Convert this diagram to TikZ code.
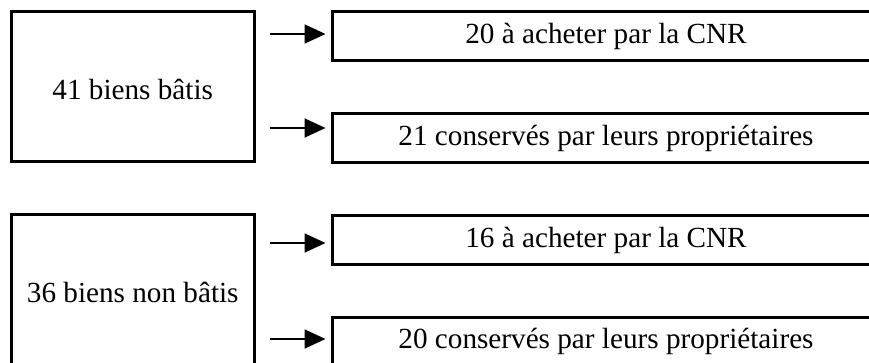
\documentclass[tikz,border=0pt]{standalone}
\usepackage{fontspec}
\setmainfont{Liberation Serif}
\usetikzlibrary{arrows.meta}
\usetikzlibrary{positioning}
\tikzset{every picture/.style={/utils/exec={\fontsize{29.2}{35}\selectfont}}}
\tikzset{
  box/.style={draw, line width=3pt, inner sep=0pt},
  wholebox/.style={box, minimum width=243.5pt, minimum height=150pt, text height=26pt, text depth=0pt},
  partbox/.style={box, minimum width=548pt, minimum height=48.5pt},
  split/.style={-{Triangle[length=21pt,width=19pt]}, line width=1.8pt, shorten <=13.5pt, shorten >=5pt}
}

\begin{document}
\begin{tikzpicture}[x=1pt,y=1pt]
  \useasboundingbox (0,0) rectangle (869,363);
  \clip (0,0) rectangle (869,363);

  % biens batis
  \node [wholebox] (bati) at (132.75,276) {41 biens bâtis};
  \node [partbox] (batibuy) at (606,326.75) {20 à acheter par la CNR};
  \node [partbox] (batikeep) at (606,224.75) {21 conservés par leurs propriétaires};

  % biens non batis
  \node [wholebox] (nonbati) at (132.75,73) {36 biens non bâtis};
  \node [partbox] (nonbatibuy) at (606,122.75) {16 à acheter par la CNR};
  \node [partbox] (nonbatikeep) at (606,21.25) {20 conservés par leurs propriétaires};

  \coordinate (t1) at ([yshift=2.25pt]batibuy.west);
  \coordinate (t2) at ([yshift=10.25pt]batikeep.west);
  \coordinate (t3) at ([yshift=-2.75pt]nonbatibuy.west);
  \coordinate (t4) at ([yshift=2.75pt]nonbatikeep.west);

  \draw [split] (bati.east |- t1) -- (t1);
  \draw [split] (bati.east |- t2) -- (t2);
  \draw [split] (nonbati.east |- t3) -- (t3);
  \draw [split] (nonbati.east |- t4) -- (t4);

\end{tikzpicture}
\end{document}
